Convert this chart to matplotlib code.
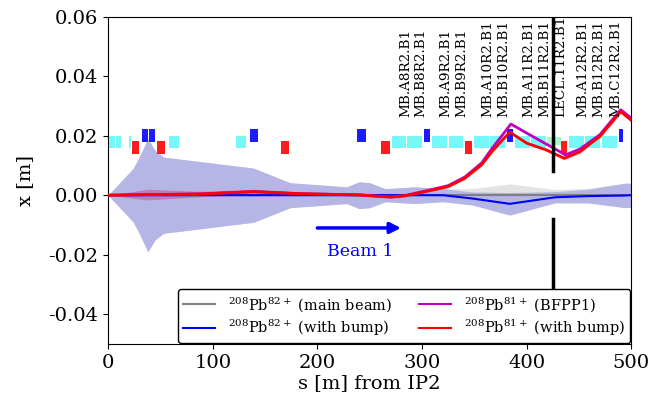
import numpy as np
import matplotlib
matplotlib.use("Agg")
import matplotlib.pyplot as plt
from matplotlib.patches import Rectangle
from matplotlib.lines import Line2D

plt.rcParams["font.family"] = "DejaVu Serif"
plt.rcParams["mathtext.fontset"] = "dejavuserif"

# beam envelope (half width) and orbit of the bumped main beam
s_env = [0, 24, 30, 38, 45, 53, 139, 174, 228, 240, 250, 265, 293, 320, 348, 384, 427, 459, 494, 500]
env = [0, 0.009, 0.013, 0.019, 0.015, 0.0128, 0.0091, 0.0042, 0.0028, 0.0045, 0.0042,
       0.0022, 0.0028, 0.0022, 0.0022, 0.0038, 0.0019, 0.0023, 0.0041, 0.004]
x_bump = [0, 0, 0, 0, 0, 0, 0, 0, 0, 0, 0, 0, 0, 0, -0.0011, -0.0029, -0.0007, -0.0003, -0.0001, 0]

# Pb81+ with bump
s_red = [0, 38, 88, 139, 184, 241, 260, 271, 284, 303, 325, 341, 357, 367, 384, 400, 419, 436, 451, 470, 490, 500]
x_red = [0, 0.0002, 0.0004, 0.0012, 0.0005, 0.0001, -0.0004, -0.0006, -0.0002, 0.0012, 0.0029,
         0.0057, 0.0102, 0.0147, 0.0212, 0.0175, 0.0152, 0.0124, 0.0146, 0.0197, 0.0281, 0.0252]
env_red = [0, 0.0018, 0.0009, 0.0008, 0.0005, 0.0004, 0.0004, 0.0004, 0.0004, 0.0004, 0.0004,
           0.0004, 0.0004, 0.0004, 0.0005, 0.0005, 0.0005, 0.0005, 0.0005, 0.0005, 0.0006, 0.0006]

# Pb81+ BFPP1
s_bf = [0, 38, 88, 139, 184, 241, 260, 271, 284, 303, 325, 341, 357, 367, 385, 403, 432, 437, 451, 470, 490, 500]
x_bf = [0, 0.0002, 0.0004, 0.0012, 0.0005, 0.0001, -0.0004, -0.0006, -0.0001, 0.0014, 0.0032,
        0.0061, 0.0108, 0.0157, 0.0239, 0.0203, 0.0146, 0.0135, 0.0155, 0.0203, 0.0287, 0.0259]

# lattice elements (start, end) in s
dip_start = [1, 7.3, 20, 58, 122, 271, 286, 310, 325.4, 350, 365, 389, 404.5, 440.7, 456, 472]
dip_end = [6.7, 12.4, 22, 68, 132, 285, 300, 324.4, 339, 364, 379.5, 403.5, 419, 455, 470.4, 486.3]
quad_start = [32, 39, 136, 238, 302, 381, 488]
quad_end = [38, 45, 143, 247, 308, 387, 492.6]
kick_start = [22.6, 47, 165, 261, 341, 433]
kick_end = [29.6, 54, 173, 269, 348, 439]
coll_start = [419.4]
coll_end = [432.8]

names = ["MB.A8R2.B1", "MB.B8R2.B1", "MB.A9R2.B1", "MB.B9R2.B1", "MB.A10R2.B1", "MB.B10R2.B1",
         "MB.A11R2.B1", "MB.B11R2.B1", "LECL.11R2.B1", "MB.A12R2.B1", "MB.B12R2.B1", "MB.C12R2.B1"]
name_s = [278, 293, 317, 332, 357, 372, 396, 411, 426, 448, 463, 479]

lecl_s = 425.5
lecl_gap = 0.008

fig = plt.figure(figsize=(6.63, 3.95), dpi=100)
ax = fig.add_axes([0.163, 0.129, 0.789, 0.829])

s_env_a = np.array(s_env)
env_a = np.array(env)
bump_a = np.array(x_bump)
ax.fill_between(s_env_a, -env_a, env_a, color="#e3e3e3", lw=0, zorder=1)
ax.fill_between(s_env_a, bump_a - env_a, bump_a + env_a, color="#b5b5e6", lw=0, zorder=2)
ax.fill_between(s_red, np.array(x_red) - np.array(env_red), np.array(x_red) + np.array(env_red),
                color="#e0105a", alpha=0.35, lw=0, zorder=3)

def boxes(starts, ends, y0, h, color):
    for a, b in zip(starts, ends):
        ax.add_patch(Rectangle((a, y0), b - a, h, color=color, lw=0, zorder=4))

boxes(dip_start, dip_end, 0.016, 0.004, "#76f8f8")
boxes(quad_start, quad_end, 0.018, 0.0042, "#1c1cfc")
boxes(kick_start, kick_end, 0.014, 0.0042, "#fc1c1c")
boxes(coll_start, coll_end, 0.0169, 0.0025, "#aaf5c8")

ax.plot(s_env, np.zeros(len(s_env)), color="grey", lw=1.5, zorder=5)
ax.plot(s_env, x_bump, color="blue", lw=1.5, zorder=5)
ax.plot(s_bf, x_bf, color="#c000c0", lw=2.0, zorder=5)
ax.plot(s_red, x_red, color="red", lw=2.0, zorder=6)

ax.plot([lecl_s, lecl_s], [lecl_gap, 0.06], color="k", lw=2.5, zorder=7)
ax.plot([lecl_s, lecl_s], [-0.05, -lecl_gap], color="k", lw=2.5, zorder=7)

for n, s in zip(names, name_s):
    ax.text(s, 0.0262, n, rotation=90, ha="left", va="bottom", fontsize=9.7, zorder=6)

ax.annotate("", xy=(280, -0.011), xytext=(200, -0.011),
            arrowprops=dict(arrowstyle="-|>", color="blue", lw=2.5, mutation_scale=16,
                            shrinkA=0, shrinkB=0))
ax.text(241, -0.0188, "Beam 1", color="blue", fontsize=12.5, ha="center", va="center")

ax.set_xlim(0, 500)
ax.set_ylim(-0.05, 0.06)
ax.set_xticks([0, 100, 200, 300, 400, 500])
ax.set_yticks([-0.04, -0.02, 0.0, 0.02, 0.04, 0.06])
ax.yaxis.set_major_formatter(matplotlib.ticker.FormatStrFormatter("%.2f"))
ax.tick_params(labelsize=14)
ax.set_xlabel("s [m] from IP2", fontsize=14, labelpad=2)
ax.set_ylabel("x [m]", fontsize=14, labelpad=10)

handles = [Line2D([], [], color="grey", lw=1.5),
           Line2D([], [], color="blue", lw=1.5),
           Line2D([], [], color="#c000c0", lw=1.5),
           Line2D([], [], color="red", lw=1.5)]
labels = [r"$^{208}$Pb$^{82+}$ (main beam)", r"$^{208}$Pb$^{82+}$ (with bump)",
          r"$^{208}$Pb$^{81+}$ (BFPP1)", r"$^{208}$Pb$^{81+}$ (with bump)"]
leg = ax.legend(handles, labels, ncol=2, loc="lower right", fontsize=10.5, borderaxespad=0.05,
                framealpha=1, edgecolor="k", columnspacing=1.8, handlelength=2.2,
                handletextpad=0.9, labelspacing=0.3, borderpad=0.35)
leg.set_zorder(10)

fig.savefig("out.png", dpi=100)
